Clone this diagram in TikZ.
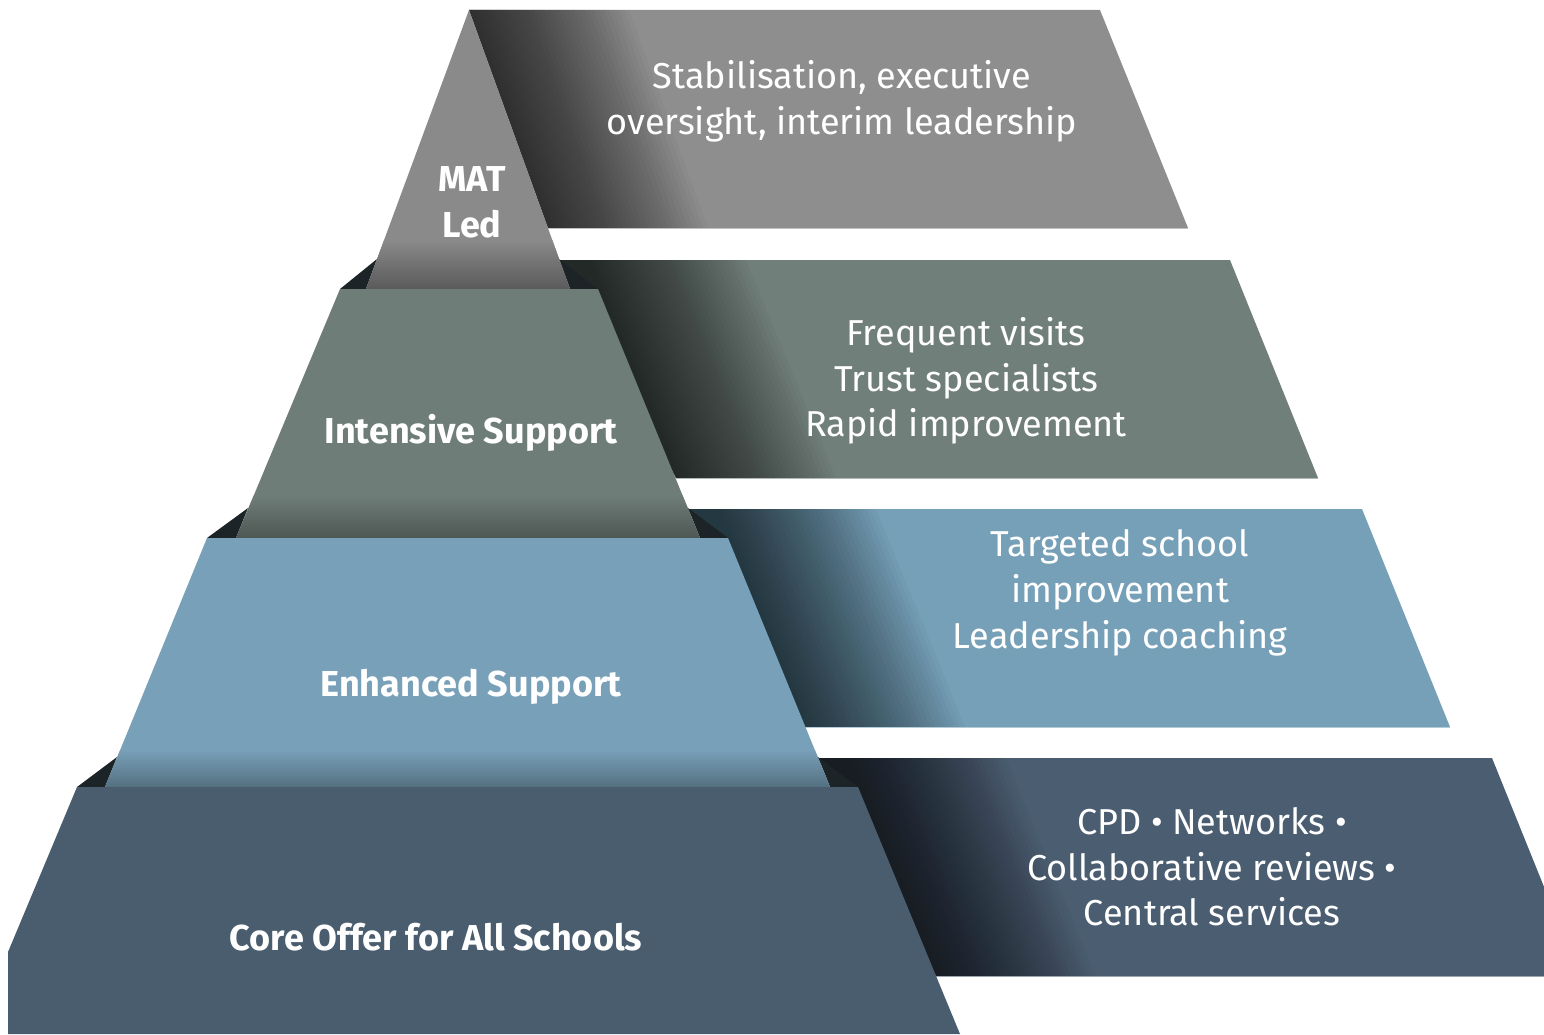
\documentclass[tikz,border=0pt]{standalone}
\usepackage{fontspec}
\setmainfont{Fira Sans}
\usepackage{tikz}
\usetikzlibrary{positioning}
\definecolor{tiergray}{HTML}{8A8A8A}
\definecolor{bandgray}{HTML}{8E8E8E}
\definecolor{tiergreen}{HTML}{6F7D78}
\definecolor{bandgreen}{HTML}{717F7A}
\definecolor{tierblue}{HTML}{78A0B8}
\definecolor{bandblue}{HTML}{76A0B8}
\definecolor{tierslate}{HTML}{4A5D6F}
\definecolor{bandslate}{HTML}{4B5E71}
\definecolor{wedgedark}{HTML}{1C2428}
\tikzset{
    tierlabel/.style={text=white, align=center,
        font=\fontsize{20.5}{26}\selectfont\bfseries},
    bandtext/.style={text=white, align=center,
        font=\fontsize{20.5}{26}\selectfont},
    wedge/.style={fill=wedgedark},
    shadestrip/.style={fill=black, opacity=.026},
}

\begin{document}
\begin{tikzpicture}[x=0.02cm, y=-0.02cm]
\useasboundingbox (0,0) rectangle (1544,1034);
\clip (0,0) rectangle (1544,1034);
% bands behind the pyramid
\foreach \ya/\yb/\la/\lb/\ra/\rb/\ea/\eb/\col in {
    10/228/469/548/1100/1188/469/548/bandgray,
    260/478/559/676/1230/1318/586/676/bandgreen,
    509/727/688/805/1362/1450/716/805/bandblue,
    758/976/818/936/1492/1580/846/936/bandslate}{
  \fill[\col] (\la,\ya) -- (\ra,\ya) -- (\rb,\yb) -- (\lb,\yb) -- cycle;
  \begin{scope}
    \clip (\la,\ya) -- (\ra,\ya) -- (\rb,\yb) -- (\lb,\yb) -- cycle;
    \foreach \j in {1,...,32}
      \fill[shadestrip] (\ea-120,\ya) -- (\ea+\j*5,\ya) -- (\eb+\j*5,\yb) -- (\eb-120,\yb) -- cycle;
  \end{scope}
  \draw[\col!55!white, line width=.5pt] (\lb,\yb) -- (\rb,\yb);
}
% dark steps
\fill[wedge] (340,289) -- (377,259) -- (366,289) -- cycle;
\fill[wedge] (559,259) -- (598,289) -- (570,289) -- cycle;
\fill[wedge] (207,538) -- (248,508) -- (236,538) -- cycle;
\fill[wedge] (688,508) -- (728,538) -- (700,538) -- cycle;
\fill[wedge] (77,787) -- (117,757) -- (105,787) -- cycle;
\fill[wedge] (818,757) -- (858,787) -- (830,787) -- cycle;
% pyramid tiers
\fill[tiergray] (469,10) -- (570,289) -- (366,289) -- cycle;
\begin{scope}
  \clip (469,10) -- (570,289) -- (366,289) -- cycle;
  \shade[top color=tiergray, bottom color=tiergray!65!black] (0,240) rectangle (1544,289);
\end{scope}
\fill[tiergreen] (340,289) -- (598,289) -- (700,538) -- (236,538) -- cycle;
\begin{scope}
  \clip (340,289) -- (598,289) -- (700,538) -- (236,538) -- cycle;
  \shade[top color=tiergreen, bottom color=tiergreen!70!black] (0,495) rectangle (1544,538);
\end{scope}
\fill[tierblue] (207,538) -- (728,538) -- (830,787) -- (105,787) -- cycle;
\begin{scope}
  \clip (207,538) -- (728,538) -- (830,787) -- (105,787) -- cycle;
  \shade[top color=tierblue, bottom color=tierblue!70!black] (0,750) rectangle (1544,787);
\end{scope}
\fill[tierslate] (77,787) -- (858,787) -- (960,1034) -- (8,1034) -- (8,952) -- cycle;
% labels
\node[tierlabel] (matled) at (472,202) {MAT\\Led};
\node[tierlabel] (intensive) at (471,433) {Intensive Support};
\node[tierlabel] (enhanced) at (471,687) {Enhanced Support};
\node[tierlabel] (core) at (436,937) {Core Offer for All Schools};
\node[bandtext] (stabil) at (842,101) {Stabilisation, executive\\oversight, interim leadership};
\node[bandtext] (visits) at (966,381) {Frequent visits\\Trust specialists\\Rapid improvement};
\node[bandtext] (targeted) at (1120,593) {Targeted school\\improvement\\Leadership coaching};
\node[bandtext] (cpd) at (1212,867) {CPD • Networks •\\Collaborative reviews •\\Central services};
\end{tikzpicture}
\end{document}
